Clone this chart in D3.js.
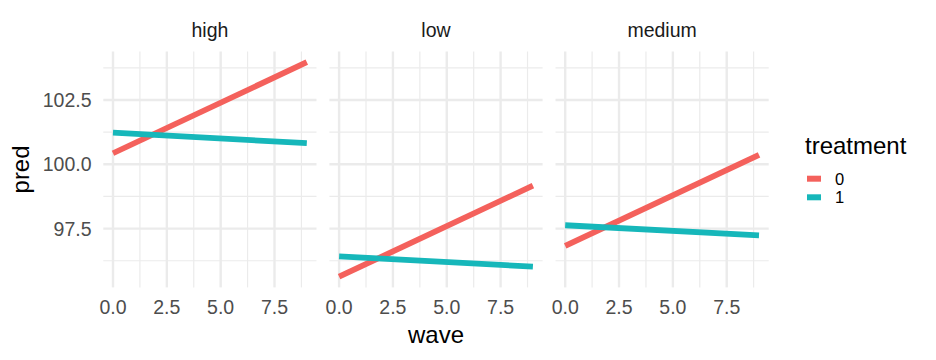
<!DOCTYPE html>
<html>
<head>
<meta charset="utf-8">
<script src="https://cdn.jsdelivr.net/npm/d3@7"></script>
<style>
  html, body { margin: 0; padding: 0; background: #fff; }
  svg { display: block; font-family: "Liberation Sans", Arial, Helvetica, sans-serif; }
</style>
</head>
<body>
<svg id="chart" width="936" height="360"></svg>
<script>
// ---- data ----
const facets = ["high", "low", "medium"];
const treatments = ["0", "1"];
const waves = [0, 9];
const predHigh0 = [100.43, 103.97];
const predHigh1 = [101.23, 100.82];
const predLow0 = [95.63, 99.17];
const predLow1 = [96.42, 96.02];
const predMedium0 = [96.83, 100.37];
const predMedium1 = [97.63, 97.24];
const xTicks = [0, 2.5, 5, 7.5];
const xMinor = [1.25, 3.75, 6.25, 8.75];
const yTicks = [97.5, 100, 102.5];
const yMinor = [96.25, 98.75, 101.25, 103.75];
const colors = ["#F4615C", "#16B7BA"];

const series = {
  high: [predHigh0, predHigh1],
  low: [predLow0, predLow1],
  medium: [predMedium0, predMedium1]
};

// ---- layout ----
const svg = d3.select("#chart");
const panelLeft = 103.3, panelW = 213.2, panelGap = 12.9;
const panelTop = 51.5, panelBottom = 287.4;

const allY = [].concat(...Object.values(series).map(s => [].concat(...s)));
const yExt = d3.extent(allY);
const yPad = (yExt[1] - yExt[0]) * 0.05;
const y = d3.scaleLinear().domain([yExt[0] - yPad, yExt[1] + yPad]).range([panelBottom, panelTop]);
const xExt = d3.extent(waves);
const xPad = (xExt[1] - xExt[0]) * 0.05;

const grid = "#EBEBEB";

facets.forEach((f, i) => {
  const left = panelLeft + i * (panelW + panelGap);
  const x = d3.scaleLinear().domain([xExt[0] - xPad, xExt[1] + xPad]).range([left, left + panelW]);
  const g = svg.append("g");

  // minor grid
  g.selectAll(".ymin").data(yMinor).join("line")
    .attr("x1", left).attr("x2", left + panelW)
    .attr("y1", d => y(d)).attr("y2", d => y(d))
    .attr("stroke", grid).attr("stroke-width", 1.2);
  g.selectAll(".xmin").data(xMinor).join("line")
    .attr("y1", panelTop).attr("y2", panelBottom)
    .attr("x1", d => x(d)).attr("x2", d => x(d))
    .attr("stroke", grid).attr("stroke-width", 1.2);
  // major grid
  g.selectAll(".ymaj").data(yTicks).join("line")
    .attr("x1", left).attr("x2", left + panelW)
    .attr("y1", d => y(d)).attr("y2", d => y(d))
    .attr("stroke", grid).attr("stroke-width", 2.4);
  g.selectAll(".xmaj").data(xTicks).join("line")
    .attr("y1", panelTop).attr("y2", panelBottom)
    .attr("x1", d => x(d)).attr("x2", d => x(d))
    .attr("stroke", grid).attr("stroke-width", 2.4);

  // lines
  const line = d3.line().x(d => x(d[0])).y(d => y(d[1]));
  series[f].forEach((vals, k) => {
    g.append("path")
      .datum(waves.map((w, j) => [w, vals[j]]))
      .attr("d", line)
      .attr("fill", "none")
      .attr("stroke", colors[k])
      .attr("stroke-width", 5.8)
      .attr("stroke-linecap", "butt");
  });

  // strip
  g.append("text")
    .attr("x", left + panelW / 2).attr("y", 37)
    .attr("text-anchor", "middle")
    .attr("font-size", 19.5).attr("fill", "#1A1A1A")
    .text(f);

  // x tick labels
  g.selectAll(".xt").data(xTicks).join("text")
    .attr("x", d => x(d)).attr("y", 314.3)
    .attr("text-anchor", "middle")
    .attr("font-size", 19.5).attr("fill", "#4D4D4D")
    .text(d => d3.format(".1f")(d));
});

// y tick labels
svg.selectAll(".yt").data(yTicks).join("text")
  .attr("x", 91.5).attr("y", d => y(d))
  .attr("dy", "0.36em")
  .attr("text-anchor", "end")
  .attr("font-size", 19.5).attr("fill", "#4D4D4D")
  .text(d => d3.format(".1f")(d));

// axis titles
const plotCenterX = panelLeft + (3 * panelW + 2 * panelGap) / 2;
svg.append("text")
  .attr("x", plotCenterX).attr("y", 342.5)
  .attr("text-anchor", "middle")
  .attr("font-size", 24).attr("fill", "#000")
  .text("wave");
svg.append("text")
  .attr("transform", `translate(28.5,${(panelTop + panelBottom) / 2}) rotate(-90)`)
  .attr("text-anchor", "middle")
  .attr("font-size", 24).attr("fill", "#000")
  .text("pred");

// legend
const lg = svg.append("g");
lg.append("text")
  .attr("x", 805).attr("y", 154)
  .attr("font-size", 24).attr("fill", "#000")
  .text("treatment");
const keyY = [178.7, 197.3];
treatments.forEach((t, k) => {
  lg.append("line")
    .attr("x1", 807).attr("x2", 821)
    .attr("y1", keyY[k]).attr("y2", keyY[k])
    .attr("stroke", colors[k]).attr("stroke-width", 6);
  lg.append("text")
    .attr("x", 835).attr("y", keyY[k])
    .attr("dy", "0.36em")
    .attr("font-size", 16.5).attr("fill", "#000")
    .text(t);
});
</script>
</body>
</html>
